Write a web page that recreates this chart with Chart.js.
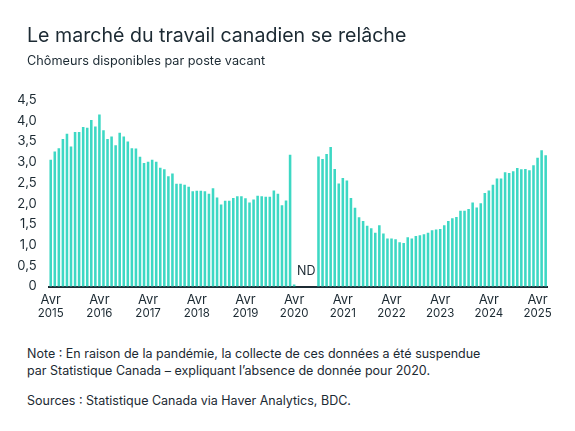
<!DOCTYPE html>
<html><head><meta charset="utf-8">
<script src="https://cdn.jsdelivr.net/npm/chart.js@4.4.1/dist/chart.umd.min.js"></script>
<style>
body{margin:0;background:#fff;width:575px;height:431px;overflow:hidden;font-family:Inter,"Noto Sans",sans-serif;color:#1c2a33;position:relative}
#t{position:absolute;left:27px;top:24px;font-size:19.6px;line-height:23px;white-space:nowrap}
#s{position:absolute;left:27px;top:52.5px;font-size:12.7px;line-height:16px;white-space:nowrap}
#wrap{position:absolute;left:0;top:0;width:575px;height:335px}
#n{position:absolute;left:27px;top:346px;font-size:12.5px;line-height:16.7px;white-space:nowrap}
#src{position:absolute;left:27px;top:393px;font-size:12.5px;line-height:16.7px;white-space:nowrap}
</style></head>
<body>
<div id="wrap"><canvas id="c"></canvas></div>
<div id="t">Le marché du travail canadien se relâche</div>
<div id="s">Chômeurs disponibles par poste vacant</div>
<div id="n">Note : En raison de la pandémie, la collecte de ces données a été suspendue<br>par Statistique Canada – expliquant l’absence de donnée pour 2020.</div>
<div id="src">Sources : Statistique Canada via Haver Analytics, BDC.</div>
<script>
// Monthly categories: April 2015 to June 2025
const monthNames = ['Jan','Fév','Mar','Avr','Mai','Juin','Juil','Août','Sep','Oct','Nov','Déc'];
const tickMonth = 'Avr';
const tickYears = ['2015','2016','2017','2018','2019','2020','2021','2022','2023','2024','2025'];
const categories = [];
for (let y = 2015; y <= 2025; y++) {
  for (let m = 0; m < 12; m++) {
    if (y === 2015 && m < 3) continue;
    if (y === 2025 && m > 5) continue;
    categories.push(monthNames[m] + ' ' + y);
  }
}
// Unemployed per job vacancy (ND = no data, Apr–Sep 2020)
const ratio = [
  3.05,3.25,3.33,3.55,3.68,3.37,3.72,3.72,3.84,3.82,4.01,3.85,
  4.14,3.76,3.55,3.61,3.40,3.70,3.61,3.49,3.33,3.32,3.12,2.97,
  3.00,3.05,3.00,2.86,2.82,2.65,2.72,2.47,2.47,2.45,2.40,2.29,
  2.30,2.30,2.29,2.23,2.36,2.14,1.97,2.06,2.06,2.13,2.17,2.17,
  2.12,2.02,2.09,2.18,2.17,2.16,2.16,2.31,2.23,1.95,2.07,3.17,
  0.04,null,null,null,null,null,3.13,3.07,3.19,3.36,2.83,2.48,
  2.61,2.55,2.13,1.89,1.66,1.57,1.46,1.40,1.29,1.47,1.27,1.15,
  1.15,1.13,1.06,1.04,1.18,1.15,1.21,1.23,1.25,1.29,1.35,1.37,
  1.38,1.47,1.57,1.64,1.67,1.82,1.82,1.86,2.02,1.90,2.00,2.25,
  2.31,2.45,2.60,2.60,2.75,2.73,2.77,2.85,2.82,2.83,2.80,2.92,
  3.10,3.28,3.16
];
const ndLabel = 'ND';
const ndIndex = 63;

const ink = '#1c2a33';
const ndPlugin = {
  id: 'nd',
  afterDatasetsDraw(chart) {
    const ctx = chart.ctx, x = chart.scales.x, y = chart.scales.y;
    ctx.save();
    ctx.font = '12.5px Inter, "Noto Sans", sans-serif';
    ctx.fillStyle = ink;
    ctx.textAlign = 'center';
    ctx.textBaseline = 'middle';
    ctx.fillText(ndLabel, x.getPixelForValue(ndIndex), y.getPixelForValue(0) - 15);
    ctx.restore();
  }
};

new Chart(document.getElementById('c'), {
  type: 'bar',
  data: {
    labels: categories,
    datasets: [{
      data: ratio,
      backgroundColor: '#3dd8c4',
      barThickness: 1.9,
      xAxisID: 'x'
    }]
  },
  options: {
    responsive: true,
    maintainAspectRatio: false,
    animation: false,
    layout: { padding: { left: 0, right: 27.3, top: 100, bottom: 13.5 } },
    plugins: { legend: { display: false }, tooltip: { enabled: false } },
    scales: {
      y: {
        min: 0, max: 4.5,
        afterFit(s) { s.width = 48.7; },
        grid: { display: false },
        border: { display: false },
        ticks: {
          stepSize: 0.5, padding: 4, color: ink,
          font: { size: 13, family: 'Inter, "Noto Sans", sans-serif' },
          callback: v => v === 0 ? '0' : v.toFixed(1).replace('.', ',')
        }
      },
      x: {
        type: 'category', position: 'bottom', offset: true,
        afterFit(s) { s.height = 20; },
        grid: { display: false, drawTicks: false },
        border: { display: true, color: ink, width: 2 },
        ticks: {
          autoSkip: false, maxRotation: 0, minRotation: 0, padding: 6, color: ink,
          font: { size: 13, family: 'Inter, "Noto Sans", sans-serif' },
          callback: (v, i) => i % 12 === 0 ? tickMonth : null
        }
      },
      x2: {
        type: 'category', position: 'bottom', offset: true,
        afterFit(s) { s.height = 15; },
        grid: { display: false, drawTicks: false },
        border: { display: false },
        ticks: {
          autoSkip: false, maxRotation: 0, minRotation: 0, padding: 0, color: ink,
          font: { size: 11.5, family: 'Inter, "Noto Sans", sans-serif' },
          callback: (v, i) => i % 12 === 0 ? tickYears[i / 12] : null
        }
      }
    }
  },
  plugins: [ndPlugin]
});
</script>
</body></html>
